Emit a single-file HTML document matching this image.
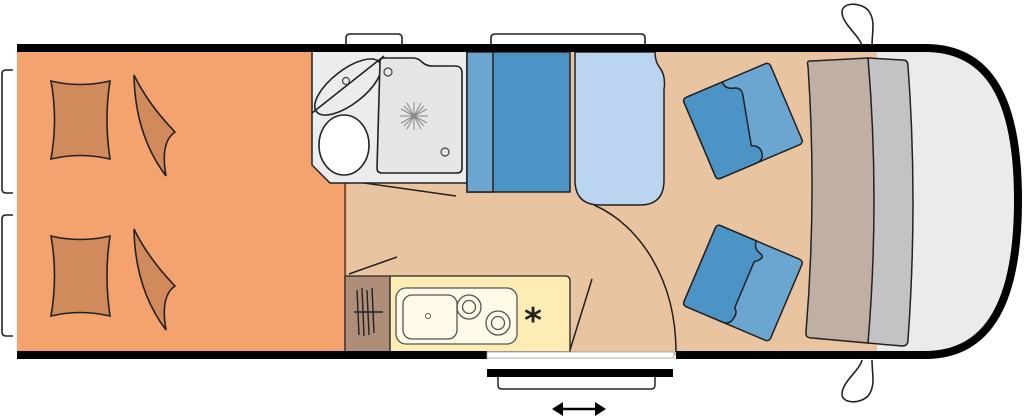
<!DOCTYPE html>
<html><head><meta charset="utf-8"><style>html,body{margin:0;padding:0;background:#fff}svg{display:block}</style></head>
<body>
<svg width="1024" height="420" viewBox="0 0 1024 420" xmlns="http://www.w3.org/2000/svg">
<g stroke="#222" stroke-width="1.6" fill="#fff">
 <!-- windows -->
 <path d="M346 46 V38 q0-4 4-4 H398 q4 0 4 4 V46"/>
 <path d="M491 46 V38 q0-4 4-4 H641 q4 0 4 4 V46"/>
 <path d="M13 70 H6 q-4 0-4 4 V189 q0 4 4 4 H13"/>
 <path d="M13 215 H6 q-4 0-4 4 V332 q0 4 4 4 H13"/>
 <!-- mirrors -->
 <path d="M862 46 C860 36 842 24 842 12 C842 2 860 2 868 10 C876 20 872 32 872 46"/>
 <path d="M862 360 C860 370 842 382 842 394 C842 404 860 404 868 396 C876 386 872 374 872 360"/>
</g>
<!-- body fill -->
<path d="M17 48 H925 C990 48 1018 100 1018 200 C1018 300 990 355 925 355 H17 Z" fill="#EBEBEB"/>
<rect x="17" y="48" width="860" height="307" fill="#E8C4A0"/>
<rect x="17" y="48" width="330" height="307" fill="#F4A26E"/>
<!-- bathroom -->
<path d="M312 50 H467 V183 H330 L312 165 Z" fill="#ECECEC" stroke="#222" stroke-width="1.5"/>
<path d="M312 50 V183" stroke="none"/>
<rect x="312" y="50" width="35" height="0" />
<path d="M345 183 V350" stroke="#222" stroke-width="1.2"/>
<ellipse cx="348" cy="87" rx="40" ry="17" transform="rotate(-38 348 87)" fill="#ECECEC" stroke="#222" stroke-width="1.6"/>
<path d="M312 113 L384 56" stroke="#222" stroke-width="1.6"/>
<ellipse cx="344" cy="145" rx="25" ry="30" fill="#fff" stroke="#222" stroke-width="1.6"/>
<path d="M380 62 Q380 58 384 58 H413 Q418 58 422 62 Q426 66 432 66 H455 Q462 66 462 73 V168 Q462 173 457 173 H382 Q377 173 377 168 Z" fill="#E6E6E6" stroke="#222" stroke-width="1.6"/>
<circle cx="388" cy="72" r="4" fill="none" stroke="#444" stroke-width="1.2"/>
<circle cx="445" cy="152" r="4" fill="none" stroke="#444" stroke-width="1.2"/>
<circle cx="346" cy="81" r="3.5" fill="none" stroke="#444" stroke-width="1.2"/>
<g stroke="#888" stroke-width="1"><path d="M400 116 H428 M414 102 V130 M404 106 L424 126 M424 106 L404 126 M407 103 L421 129 M421 103 L407 129 M401 109 L427 123 M427 109 L401 123"/></g>
<path d="M364 183 L456 196" stroke="#222" stroke-width="1.5"/>
<!-- blue cabinets -->
<rect x="467" y="52" width="103" height="140" fill="#4C93C6" stroke="#222" stroke-width="1.5"/>
<rect x="467" y="52" width="26" height="140" fill="#6AA6D0" stroke="#222" stroke-width="1.5"/>
<path d="M575 52 H655 Q655 62 660 68 Q666 76 664 90 V180 Q664 205 640 205 H600 Q575 205 575 180 Z" fill="#BBD4EF" stroke="#222" stroke-width="1.5"/>
<path d="M594 205 C640 225 676 280 676 352" fill="none" stroke="#222" stroke-width="1.5"/>
<!-- kitchen -->
<rect x="345" y="276" width="45" height="76" fill="#AE8E78" stroke="#222" stroke-width="1.2"/>
<path d="M390 276 H565 Q570 276 570 281 V352 H390 Z" fill="#FDEDB5" stroke="#222" stroke-width="1.3"/>
<g stroke="#222" stroke-width="1.4"><path d="M357 290 L359 335 M362 288 L364 336 M367 290 L369 335 M372 288 L374 333 M354 312 H383"/></g>
<rect x="396" y="288" width="121" height="56" rx="10" fill="#FFF9E8" stroke="#555" stroke-width="1.3"/>
<rect x="403" y="295" width="54" height="44" rx="9" fill="none" stroke="#555" stroke-width="1.3"/>
<circle cx="428" cy="316" r="2.5" fill="none" stroke="#555"/>
<circle cx="469" cy="307" r="12" fill="none" stroke="#555" stroke-width="1.3"/><circle cx="469" cy="307" r="6.5" fill="none" stroke="#555" stroke-width="1.3"/>
<circle cx="498" cy="323" r="12" fill="none" stroke="#555" stroke-width="1.3"/><circle cx="498" cy="323" r="6.5" fill="none" stroke="#555" stroke-width="1.3"/>
<text x="533" y="332" font-family="DejaVu Sans, sans-serif" font-size="34" font-weight="bold" text-anchor="middle" fill="#222">*</text>
<path d="M349 274 L397 257" stroke="#222" stroke-width="1.5"/>
<path d="M570 350 L592 279" stroke="#222" stroke-width="1.5"/>
<!-- beds cushions -->
<g fill="#D08A5C" stroke="#222" stroke-width="1.6">
 <path d="M51 81 Q80 88 110 81 Q104 119 110 159 Q80 152 51 159 Q58 119 51 81 Z"/>
 <path d="M134 75 Q148 104 175 132 Q160 142 166 176 Q135 135 134 75 Z"/>
 <path d="M51 236 Q80 243 110 236 Q104 275 110 316 Q80 309 51 316 Q58 275 51 236 Z"/>
 <path d="M134 229 Q148 258 175 286 Q160 296 166 330 Q135 289 134 229 Z"/>
</g>
<!-- seats -->
<g stroke="#222" stroke-width="1.5">
 <g transform="translate(743 121) rotate(-23)">
  <rect x="-47" y="-44" width="94" height="88" rx="4" fill="#6AA6D0"/>
  <path d="M-47 -40 Q-47 -44 -43 -44 H-4 Q-4 -36 4 -34 Q12 -32 10 -24 L-2 26 Q8 30 4 40 Q2 44 -4 44 H-43 Q-47 44 -47 40 Z" fill="#4C93C6"/>
 </g>
 <g transform="translate(743 283) rotate(23)">
  <rect x="-47" y="-44" width="94" height="88" rx="4" fill="#6AA6D0"/>
  <path d="M-47 -40 Q-47 -44 -43 -44 H-4 Q-4 -36 4 -34 Q12 -32 2 -24 L2 26 Q8 30 4 40 Q2 44 -4 44 H-43 Q-47 44 -47 40 Z" fill="#4C93C6"/>
 </g>
</g>
<!-- cab bench -->
<path d="M868 58 L903 60 Q908 60 908 66 Q918 200 908 340 Q908 346 902 346 L868 343 Z" fill="#C3C3C6" stroke="#222" stroke-width="1.5"/>
<path d="M808 66 Q806 60 812 61 L868 58 Q880 200 868 343 L812 338 Q805 338 806 332 Q817 200 808 66 Z" fill="#BFB0A3" stroke="#222" stroke-width="1.5"/>
<!-- walls -->
<path d="M17 48 H925 C990 48 1018 100 1018 200 C1018 300 990 355 925 355 H676 M487 355 H17 Z" fill="none" stroke="#000" stroke-width="8"/>
<rect x="487" y="352" width="187" height="6" fill="#fff" stroke="#999" stroke-width="0.8"/>
<!-- step -->
<rect x="487" y="369" width="186" height="8" fill="#000"/>
<path d="M498 377 V385 q0 4 4 4 H651 q4 0 4-4 V377" fill="#fff" stroke="#222" stroke-width="1.5"/>
<path d="M560 409 H598" stroke="#000" stroke-width="2.5"/>
<path d="M552 409 L563 402 V416 Z M606 409 L595 402 V416 Z" fill="#000"/>
</svg>
</body></html>
